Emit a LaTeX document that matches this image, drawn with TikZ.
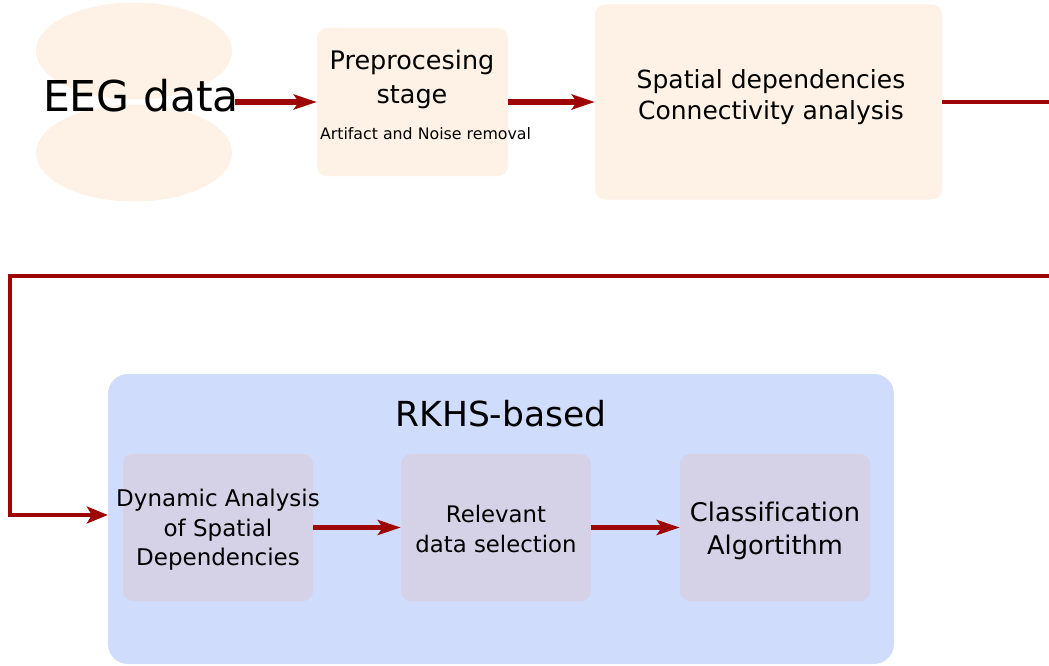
\documentclass[tikz,border=0pt]{standalone}
\usepackage{fontspec}
\setmainfont[Ligatures=CommonOff]{DejaVu Sans}
\usetikzlibrary{arrows.meta,shapes.geometric}
\definecolor{peach}{HTML}{FEF1E5}
\definecolor{rkhsblue}{HTML}{D0DCFC}
\definecolor{lav}{HTML}{D5D2E7}
\definecolor{darkred}{HTML}{9E0606}
\tikzset{
  peachbox/.style={fill=peach,draw=none,rounded corners=10pt,inner sep=0pt},
  lavbox/.style={fill=lav,draw=none,rounded corners=10pt,inner sep=0pt,minimum width=190pt,minimum height=147pt},
  txt/.style={inner sep=0pt,align=center,text=black},
  thickarrow/.style={draw=darkred,line width=5.5pt,-{Stealth[length=23pt,width=15pt,inset=5pt]}},
  connarrow/.style={draw=darkred,line width=3.3pt,-{Stealth[length=21pt,width=17pt,inset=5pt]}},
}
\begin{document}
\begin{tikzpicture}[x=1pt,y=-1pt]
\useasboundingbox (0,0) rectangle (1049,666);
% EEG data
\node[ellipse,fill=peach,minimum width=196pt,minimum height=97pt,inner sep=0pt] (e1) at (134,51) {};
\node[ellipse,fill=peach,minimum width=196pt,minimum height=97pt,inner sep=0pt] (e2) at (134,153) {};
\node[txt,font=\fontsize{42.5}{48}\selectfont] (eeg) at (141,96) {EEG data};
% Preprocessing
\node[peachbox,minimum width=191pt,minimum height=148pt] (pre) at (412.5,102) {};
\node[txt,font=\fontsize{25.5}{34}\selectfont] (pretxt) at (412,79) {Preprocesing\\stage};
\node[txt,font=\fontsize{15.8}{19}\selectfont] (art) at (425.5,134) {Artifact and Noise removal};
% Spatial
\node[peachbox,minimum width=347pt,minimum height=195pt] (sp) at (768.5,102) {};
\node[txt,font=\fontsize{25}{31}\selectfont] (sptxt) at (771,97) {Spatial dependencies\\Connectivity analysis};
% RKHS
\node[fill=rkhsblue,draw=none,rounded corners=20pt,inner sep=0pt,minimum width=786pt,minimum height=290pt] (rkhs) at (501,519) {};
\node[txt,font=\fontsize{34.5}{40}\selectfont] (rkhstxt) at (501,414) {RKHS-based};
\node[lavbox] (d1) at (218,527.5) {};
\node[lavbox] (d2) at (496,527.5) {};
\node[lavbox] (d3) at (775,527.5) {};
\node[txt,font=\fontsize{23}{29.5}\selectfont] (d1t) at (218,530) {Dynamic Analysis\\of Spatial\\Dependencies};
\node[txt,font=\fontsize{22.8}{29.5}\selectfont] (d2t) at (496,529) {Relevant\\data selection};
\node[txt,font=\fontsize{25.7}{33}\selectfont] (d3t) at (775,531) {Classification\\Algortithm};
% arrows
\draw[thickarrow] ([xshift=-4pt]eeg.east |- pre.west) -- (pre.west);
\draw[thickarrow] (pre.east) -- (pre.east -| sp.west);
\draw[thickarrow] (d1.east) -- (d2.west);
\draw[thickarrow] (d2.east) -- (d3.west);
\coordinate (c1) at (1065,102);
\coordinate (c2) at (1065,276);
\coordinate (c3) at (10,276);
\coordinate (c4) at (10,515);
\draw[connarrow] (sp.east) -- (c1) -- (c2) -- (c3) -- (c4) -- (c4 -| rkhs.west);
\end{tikzpicture}
\end{document}
